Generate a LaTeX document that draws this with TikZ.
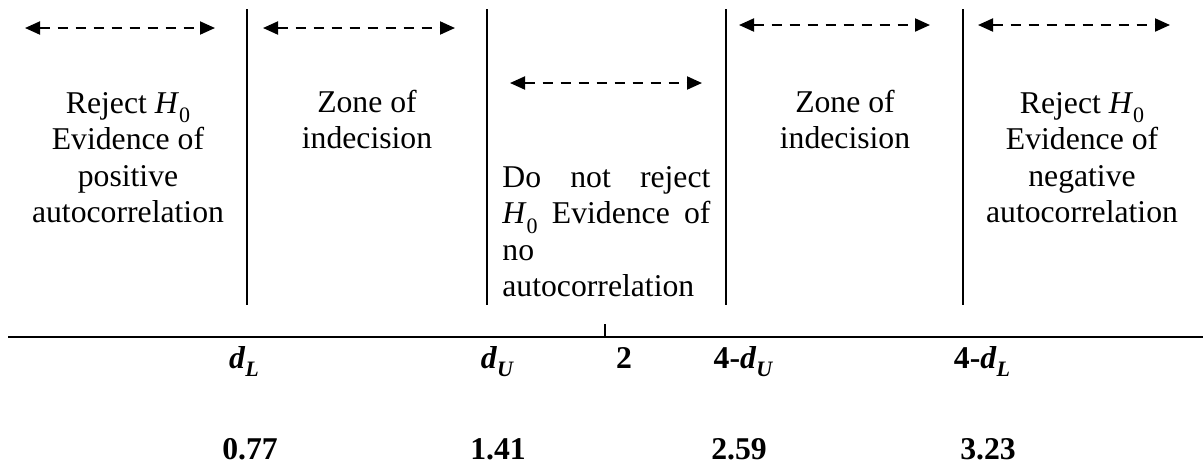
\documentclass[tikz,border=0pt]{standalone}
\usepackage{fontspec}
\setmainfont{Liberation Serif}
\usetikzlibrary{arrows.meta}
\newcommand\Hnull{\textit{H}\raisebox{-0.3em}{\fontsize{11}{11}\selectfont 0}}
\newcommand\dsub[1]{\textbf{\textit{d}}\raisebox{-0.28em}{\fontsize{11}{11}\selectfont\bfseries\itshape #1}}
\begin{document}
\begin{tikzpicture}[x=0.5pt,y=-0.5pt,
  txt/.style={font=\fontsize{15.85}{18.25}\selectfont, inner sep=0pt, align=center, anchor=base},
  sep/.style={line width=1pt},
  spanarrow/.style={line width=1pt, dash pattern=on 5pt off 4pt, {Triangle[length=7.5pt,width=6.5pt]}-{Triangle[length=7.5pt,width=6.5pt]}},
  lab/.style={font=\fontsize{15.85}{18}\selectfont\bfseries, inner sep=0pt, anchor=base}]
\useasboundingbox (0,0) rectangle (1203,468);
% separators
\foreach \x/\n in {247/1,487/2,726/3,963/4}{
  \coordinate (v\n t) at (\x,9);
  \coordinate (v\n b) at (\x,305);
  \draw[sep] (v\n t) -- (v\n b);
}
% axis
\coordinate (axL) at (8,337);
\coordinate (axR) at (1203,337);
\draw[sep] (axL) -- (axR);
\coordinate (tk1) at (605,324);
\coordinate (tk2) at (605,337);
\draw[line width=0.6pt] (tk1) -- (tk2);
% range arrows
\coordinate (a1l) at (25,28);  \coordinate (a1r) at (215,28);
\coordinate (a2l) at (263,28); \coordinate (a2r) at (455,28);
\coordinate (a3l) at (510,83); \coordinate (a3r) at (702,83);
\coordinate (a4l) at (739,25); \coordinate (a4r) at (930,25);
\coordinate (a5l) at (978,25); \coordinate (a5r) at (1170,25);
\draw[spanarrow] (a1l) -- (a1r);
\draw[spanarrow] (a2l) -- (a2r);
\draw[spanarrow] (a3l) -- (a3r);
\draw[spanarrow] (a4l) -- (a4r);
\draw[spanarrow] (a5l) -- (a5r);
% texts (anchor = baseline of the last line)
\node[txt] (rejL) at (128,222.5) {Reject \Hnull\\Evidence of\\positive\\autocorrelation};
\node[txt] (zoneL) at (367,148.5) {Zone of\\indecision};
\node[txt, anchor=base west, align=left] (mid) at (502,296.5)
  {\makebox[104pt][s]{Do not reject}\\\makebox[104pt][s]{\Hnull{} Evidence of}\\no\\autocorrelation};
\node[txt] (zoneR) at (845,148.5) {Zone of\\indecision};
\node[txt] (rejR) at (1082,222.5) {Reject \Hnull\\Evidence of\\negative\\autocorrelation};
% bottom labels
\node[lab] (dL) at (244,368) {\dsub{L}};
\node[lab] (dU) at (497,368) {\dsub{U}};
\node[lab] (two) at (624,368) {2};
\node[lab] (fdU) at (743,368) {4-\dsub{U}};
\node[lab] (fdL) at (982,368) {4-\dsub{L}};
\node[lab] (n1) at (250,459) {0.77};
\node[lab] (n2) at (498,459) {1.41};
\node[lab] (n3) at (739,459) {2.59};
\node[lab] (n4) at (988,459) {3.23};
\end{tikzpicture}
\end{document}
